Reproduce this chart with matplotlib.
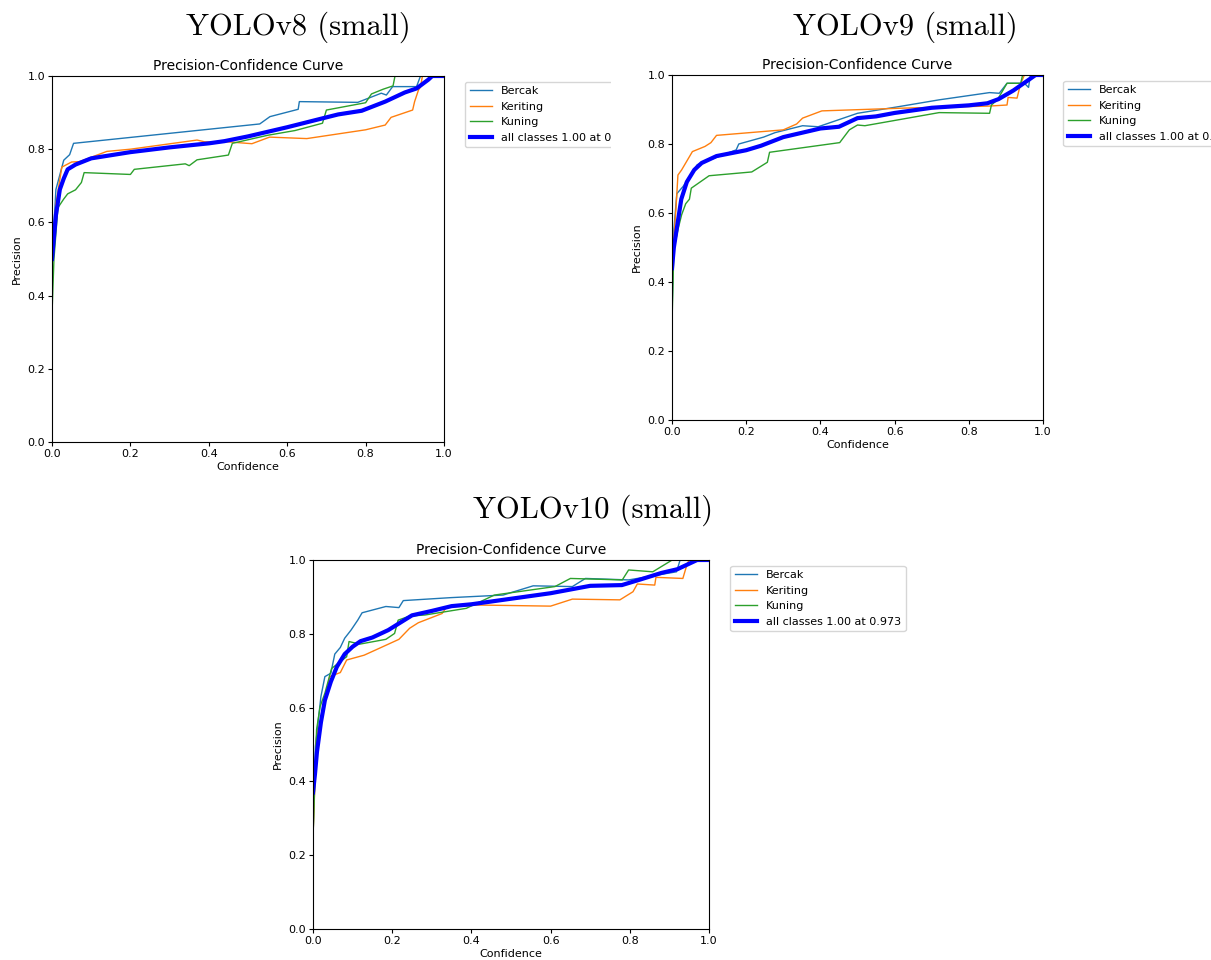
import matplotlib.pyplot as plt
from matplotlib.patches import Rectangle

plt.rcParams['font.family'] = ['DejaVu Sans']

classes = ['Bercak', 'Keriting', 'Kuning']
colors = ['tab:blue', 'tab:orange', 'tab:green']

# YOLOv8 small: (confidence, precision) points per class
v8_bercak = [(0.0, 0.50), (0.01, 0.69), (0.03, 0.77), (0.045, 0.785), (0.055, 0.816),
             (0.53, 0.869), (0.556, 0.889), (0.628, 0.909), (0.631, 0.93), (0.78, 0.928),
             (0.84, 0.953), (0.853, 0.948), (0.869, 0.971), (0.93, 0.971), (0.94, 1.0), (1.0, 1.0)]
v8_keriting = [(0.0, 0.48), (0.01, 0.65), (0.025, 0.751), (0.05, 0.765), (0.07, 0.766),
               (0.14, 0.794), (0.2, 0.80), (0.37, 0.825), (0.39, 0.82), (0.45, 0.82),
               (0.51, 0.815), (0.555, 0.833), (0.65, 0.829), (0.8, 0.853), (0.85, 0.866),
               (0.865, 0.887), (0.92, 0.907), (0.925, 0.93), (0.935, 0.962), (0.94, 0.97),
               (0.945, 1.0), (1.0, 1.0)]
v8_kuning = [(0.0, 0.35), (0.005, 0.50), (0.015, 0.64), (0.03, 0.664), (0.04, 0.678),
             (0.06, 0.689), (0.075, 0.709), (0.082, 0.736), (0.2, 0.731), (0.21, 0.745),
             (0.34, 0.76), (0.35, 0.755), (0.37, 0.771), (0.45, 0.784), (0.46, 0.816),
             (0.55, 0.838), (0.62, 0.851), (0.69, 0.871), (0.70, 0.907), (0.80, 0.927),
             (0.815, 0.951), (0.845, 0.964), (0.87, 0.973), (0.875, 1.0), (1.0, 1.0)]
v8_all = [(0.0, 0.50), (0.005, 0.56), (0.01, 0.62), (0.02, 0.69), (0.03, 0.72),
          (0.04, 0.745), (0.06, 0.758), (0.1, 0.775), (0.2, 0.792), (0.3, 0.805),
          (0.4, 0.816), (0.44, 0.822), (0.5, 0.835), (0.6, 0.86), (0.7, 0.887),
          (0.73, 0.895), (0.79, 0.905), (0.85, 0.93), (0.9, 0.955), (0.93, 0.966),
          (0.96, 0.99), (0.97, 1.0), (1.0, 1.0)]

# YOLOv9 small
v9_bercak = [(0.0, 0.30), (0.005, 0.55), (0.013, 0.656), (0.03, 0.677), (0.068, 0.74),
             (0.173, 0.783), (0.18, 0.80), (0.247, 0.82), (0.278, 0.833), (0.352, 0.853),
             (0.394, 0.85), (0.5, 0.889), (0.604, 0.907), (0.72, 0.928), (0.856, 0.949),
             (0.882, 0.947), (0.903, 0.976), (0.95, 0.976), (0.961, 0.964), (0.966, 1.0),
             (1.0, 1.0)]
v9_keriting = [(0.0, 0.45), (0.0105, 0.61), (0.016, 0.71), (0.026, 0.725), (0.055, 0.778),
               (0.089, 0.793), (0.105, 0.804), (0.12, 0.825), (0.3, 0.841), (0.336, 0.858),
               (0.352, 0.875), (0.404, 0.896), (0.625, 0.904), (0.856, 0.91), (0.903, 0.913),
               (0.906, 0.935), (0.93, 0.933), (0.94, 0.976), (0.95, 1.0), (1.0, 1.0)]
v9_kuning = [(0.0, 0.28), (0.005, 0.494), (0.016, 0.552), (0.026, 0.595), (0.037, 0.627),
             (0.047, 0.64), (0.052, 0.672), (0.1, 0.708), (0.215, 0.719), (0.257, 0.747),
             (0.263, 0.776), (0.452, 0.804), (0.478, 0.841), (0.5, 0.855), (0.52, 0.853),
             (0.72, 0.891), (0.856, 0.889), (0.861, 0.913), (0.877, 0.928), (0.903, 0.976),
             (0.94, 0.976), (0.945, 1.0), (1.0, 1.0)]
v9_all = [(0.0, 0.44), (0.005, 0.50), (0.015, 0.57), (0.025, 0.64), (0.04, 0.69),
          (0.06, 0.725), (0.08, 0.745), (0.12, 0.765), (0.2, 0.782), (0.24, 0.795),
          (0.3, 0.82), (0.4, 0.845), (0.45, 0.85), (0.5, 0.875), (0.55, 0.88),
          (0.6, 0.89), (0.7, 0.905), (0.8, 0.912), (0.85, 0.918), (0.88, 0.93),
          (0.92, 0.955), (0.96, 0.985), (0.98, 1.0), (1.0, 1.0)]

# YOLOv10 small
v10_bercak = [(0.0, 0.24), (0.006, 0.494), (0.02, 0.63), (0.03, 0.684), (0.045, 0.693),
              (0.055, 0.745), (0.069, 0.763), (0.08, 0.788), (0.096, 0.81), (0.113, 0.837),
              (0.124, 0.857), (0.184, 0.874), (0.217, 0.871), (0.228, 0.89), (0.348, 0.898),
              (0.48, 0.905), (0.556, 0.93), (0.655, 0.928), (0.688, 0.95), (0.797, 0.946),
              (0.918, 0.968), (0.927, 1.0), (1.0, 1.0)]
v10_keriting = [(0.0, 0.25), (0.009, 0.52), (0.025, 0.593), (0.042, 0.684), (0.069, 0.695),
                (0.085, 0.729), (0.129, 0.742), (0.168, 0.761), (0.217, 0.785), (0.244, 0.815),
                (0.266, 0.83), (0.326, 0.855), (0.337, 0.872), (0.414, 0.878), (0.6, 0.875),
                (0.655, 0.894), (0.775, 0.892), (0.808, 0.914), (0.819, 0.935), (0.863, 0.932),
                (0.866, 0.953), (0.934, 0.95), (0.945, 0.99), (0.95, 1.0), (1.0, 1.0)]
v10_kuning = [(0.0, 0.25), (0.009, 0.54), (0.018, 0.603), (0.03, 0.639), (0.047, 0.706),
              (0.085, 0.738), (0.091, 0.779), (0.118, 0.772), (0.184, 0.785), (0.206, 0.801),
              (0.215, 0.837), (0.244, 0.848), (0.283, 0.851), (0.387, 0.869), (0.458, 0.905),
              (0.611, 0.928), (0.65, 0.95), (0.781, 0.946), (0.797, 0.973), (0.858, 0.968),
              (0.907, 1.0), (1.0, 1.0)]
v10_all = [(0.0, 0.37), (0.005, 0.42), (0.01, 0.48), (0.02, 0.56), (0.03, 0.62),
           (0.045, 0.67), (0.06, 0.71), (0.08, 0.745), (0.1, 0.765), (0.12, 0.78),
           (0.15, 0.79), (0.19, 0.81), (0.22, 0.83), (0.25, 0.85), (0.3, 0.862),
           (0.35, 0.875), (0.4, 0.88), (0.5, 0.895), (0.6, 0.91), (0.65, 0.92),
           (0.7, 0.93), (0.78, 0.932), (0.82, 0.945), (0.88, 0.965), (0.92, 0.975),
           (0.95, 0.99), (0.97, 1.0), (1.0, 1.0)]

models = ['YOLOv8 (small)', 'YOLOv9 (small)', 'YOLOv10 (small)']
curves = [[v8_bercak, v8_keriting, v8_kuning],
          [v9_bercak, v9_keriting, v9_kuning],
          [v10_bercak, v10_keriting, v10_kuning]]
all_curves = [v8_all, v9_all, v10_all]
all_labels = ['all classes 1.00 at 0.968', 'all classes 1.00 at 0.975', 'all classes 1.00 at 0.973']

fig = plt.figure(figsize=(12.11, 9.6), dpi=100)
W, H = 1211, 960
# axes boxes in pixels: left, top, right, bottom
boxes = [(52, 76, 444, 442), (672, 75, 1043, 420), (313, 560, 709, 929)]
title_pos = [(298, 27), (905, 27), (593, 510)]

for k in range(3):
    l, t, r, b = boxes[k]
    ax = fig.add_axes([l / W, 1 - b / H, (r - l) / W, (b - t) / H])
    for pts, name, c in zip(curves[k], classes, colors):
        xs = [p[0] for p in pts]
        ys = [p[1] for p in pts]
        ax.plot(xs, ys, linewidth=1, color=c, label=name)
    xs = [p[0] for p in all_curves[k]]
    ys = [p[1] for p in all_curves[k]]
    ax.plot(xs, ys, linewidth=3, color='blue', label=all_labels[k])
    ax.set_xlim(0, 1)
    ax.set_ylim(0, 1)
    ax.set_xlabel('Confidence', fontsize=8, labelpad=2)
    ax.set_ylabel('Precision', fontsize=8, labelpad=4)
    ax.set_title('Precision-Confidence Curve', fontsize=10, pad=4)
    ax.tick_params(labelsize=8, length=3, pad=2)
    ax.legend(bbox_to_anchor=(1.04, 1), loc='upper left', fontsize=8)
    fig.text(title_pos[k][0] / W, 1 - title_pos[k][1] / H, models[k],
             family='cmr10', fontsize=22, ha='center', va='center')

# the first panel's legend runs past its own frame
fig.patches.append(Rectangle((611 / W, 1 - 160 / H), 34 / W, 90 / H,
                             transform=fig.transFigure, facecolor='white',
                             edgecolor='none', zorder=10))

fig.savefig('out.png', dpi=100)
